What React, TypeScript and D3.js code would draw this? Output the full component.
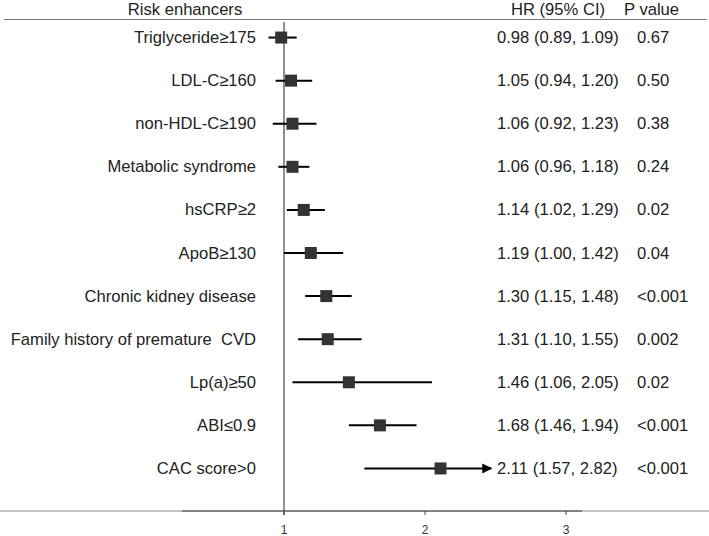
import React from "react";
import * as d3 from "d3";

const labels = [
  "Triglyceride≥175",
  "LDL-C≥160",
  "non-HDL-C≥190",
  "Metabolic syndrome",
  "hsCRP≥2",
  "ApoB≥130",
  "Chronic kidney disease",
  "Family history of premature  CVD",
  "Lp(a)≥50",
  "ABI≤0.9",
  "CAC score>0",
];
const hr = [0.98, 1.05, 1.06, 1.06, 1.14, 1.19, 1.3, 1.31, 1.46, 1.68, 2.11];
const lower = [0.89, 0.94, 0.92, 0.96, 1.02, 1.0, 1.15, 1.1, 1.06, 1.46, 1.57];
const upper = [1.09, 1.2, 1.23, 1.18, 1.29, 1.42, 1.48, 1.55, 2.05, 1.94, 2.82];
const hrText = [
  "0.98 (0.89, 1.09)",
  "1.05 (0.94, 1.20)",
  "1.06 (0.92, 1.23)",
  "1.06 (0.96, 1.18)",
  "1.14 (1.02, 1.29)",
  "1.19 (1.00, 1.42)",
  "1.30 (1.15, 1.48)",
  "1.31 (1.10, 1.55)",
  "1.46 (1.06, 2.05)",
  "1.68 (1.46, 1.94)",
  "2.11 (1.57, 2.82)",
];
const pText = ["0.67", "0.50", "0.38", "0.24", "0.02", "0.04", "<0.001", "0.002", "0.02", "<0.001", "<0.001"];
const ticks = [1, 2, 3];
const clipMax = 2.47;

export default function App() {
  const W = 709;
  const H = 536;
  const x = d3.scaleLinear().domain([1, 3]).range([284, 566]);
  const y = d3
    .scaleBand<number>()
    .domain(d3.range(labels.length))
    .range([16, 490])
    .paddingInner(0)
    .paddingOuter(0);
  const yc = (i: number) => (y(i) as number) + y.bandwidth() / 2;
  const font = "'Liberation Sans', Arial, sans-serif";
  const axisY = 511;
  const sq = 12;
  const fs = 16.6;
  return (
    <svg
      width={W}
      height={H}
      style={{ position: "absolute", left: 0, top: 0, background: "#fff" }}
      fontFamily={font}
    >
      <defs>
        <marker id="arr" viewBox="0 0 10 10" refX="9" refY="5" markerWidth="5" markerHeight="5" orient="auto">
          <path d="M0,0 L10,5 L0,10 z" fill="#000" />
        </marker>
      </defs>
      {/* headers */}
      <text x={185} y={9} fontSize={fs} textAnchor="middle" dominantBaseline="central" fill="#222">
        Risk enhancers
      </text>
      <text x={511} y={9} fontSize={fs} dominantBaseline="central" fill="#222">
        HR (95% CI)
      </text>
      <text x={624} y={9} fontSize={fs} dominantBaseline="central" fill="#222">
        P value
      </text>
      <line x1={4} x2={707} y1={19.5} y2={19.5} stroke="#777" strokeWidth={1.2} />
      {/* reference line */}
      <line x1={x(1)} x2={x(1)} y1={22} y2={axisY + 4} stroke="#444" strokeWidth={1.2} />
      {/* bottom axis */}
      <line x1={0} x2={W} y1={axisY} y2={axisY} stroke="#888" strokeWidth={1.2} />
      <line x1={182} x2={582} y1={axisY} y2={axisY} stroke="#444" strokeWidth={1.2} />
      {ticks.map((t) => (
        <g key={t}>
          <line x1={x(t)} x2={x(t)} y1={axisY} y2={axisY + 4} stroke="#444" strokeWidth={1} />
          <text x={x(t)} y={530} fontSize={12} textAnchor="middle" dominantBaseline="central" fill="#333">
            {t}
          </text>
        </g>
      ))}
      {labels.map((lab, i) => {
        const cy = yc(i);
        const hi = Math.min(upper[i], clipMax);
        const clipped = upper[i] > clipMax;
        return (
          <g key={lab}>
            <text
              x={256}
              y={cy}
              fontSize={fs}
              textAnchor="end"
              dominantBaseline="central"
              fill="#222"
              style={{ whiteSpace: "pre" }}
            >
              {lab}
            </text>
            <line
              x1={x(lower[i])}
              x2={x(hi)}
              y1={cy}
              y2={cy}
              stroke="#000"
              strokeWidth={2}
              markerEnd={clipped ? "url(#arr)" : undefined}
            />
            <rect x={x(hr[i]) - sq / 2} y={cy - sq / 2} width={sq} height={sq} fill="#333" />
            <text x={497} y={cy} fontSize={fs} dominantBaseline="central" fill="#222">
              {hrText[i]}
            </text>
            <text x={637} y={cy} fontSize={fs} dominantBaseline="central" fill="#222">
              {pText[i]}
            </text>
          </g>
        );
      })}
    </svg>
  );
}
